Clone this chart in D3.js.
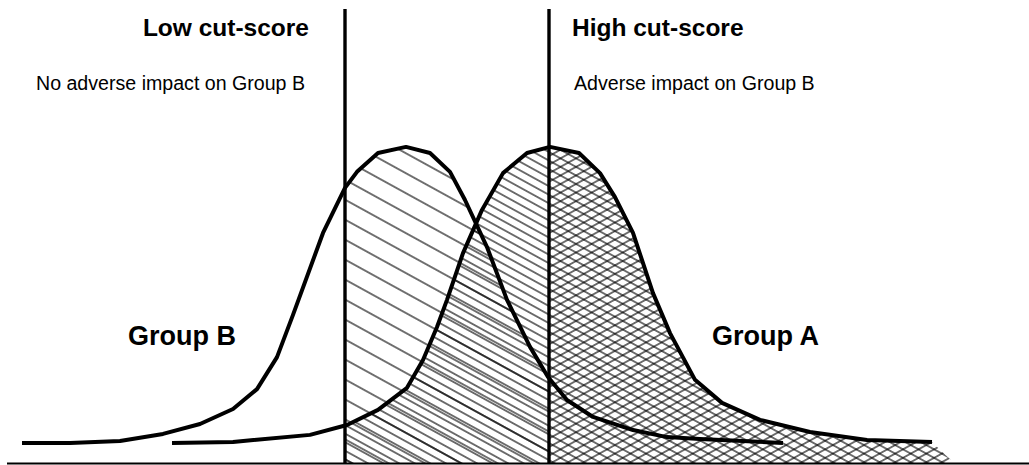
<!DOCTYPE html>
<html>
<head>
<meta charset="utf-8">
<script src="https://cdn.jsdelivr.net/npm/d3@7"></script>
<style>
  body { margin: 0; background: #fff; }
  text { font-family: "Liberation Sans", Arial, sans-serif; fill: #000; }
</style>
</head>
<body>
<script>
// score distributions (score 0-100, relative frequency 0-100)
var groupBScores = [1.2, 6.0, 11.0, 15.3, 19.0, 22.3, 24.7, 26.7, 28.3, 31.3, 33.5, 34.7, 36.8, 39.6, 42.0, 44.0, 45.5, 47.7, 49.7, 52.0, 53.8, 55.7, 58.3, 62.3, 65.7, 69.0, 77.3];
var groupBFreq   = [6.6, 6.6, 7.2, 9.4, 12.5, 17.2, 23.4, 33.4, 46.6, 72.2, 86.3, 91.3, 97.2, 99.1, 97.2, 91.3, 82.5, 67.8, 51.3, 36.6, 27.2, 20.0, 14.7, 10.6, 8.4, 7.8, 6.6];

var groupAScores = [16.2, 22.3, 30.0, 33.7, 36.8, 39.7, 41.3, 42.7, 43.7, 45.3, 47.2, 49.3, 51.7, 54.0, 56.9, 59.0, 60.5, 62.3, 64.3, 66.0, 68.5, 71.2, 75.0, 80.0, 85.7, 92.2];
var groupAFreq   = [6.6, 6.9, 9.1, 12.2, 16.9, 23.8, 32.5, 42.8, 51.3, 65.9, 79.4, 90.9, 97.2, 99.1, 97.2, 90.9, 83.4, 72.2, 53.4, 40.9, 26.3, 19.1, 13.8, 10.0, 7.5, 6.9];

// hatched area of group A runs down to the baseline a bit past the curve end
var groupAHatchEnd = [94.5, 0];

var cutScores = [33.5, 53.9];
var cutNames = ["Low cut-score", "High cut-score"];
var cutNotes = ["No adverse impact on Group B", "Adverse impact on Group B"];
var groupNames = ["Group B", "Group A"];
var groupLabelScores = [11.8, 70.2];

var width = 1029, height = 465;

var x = d3.scaleLinear().domain([0, 100]).range([10, 1010]);
var y = d3.scaleLinear().domain([0, 100]).range([464, 144]);

var svg = d3.select("body").append("svg")
  .attr("width", width)
  .attr("height", height);

var bData = groupBScores.map(function(s, i) { return [s, groupBFreq[i]]; });
var aData = groupAScores.map(function(s, i) { return [s, groupAFreq[i]]; });
var aFill = aData.concat([groupAHatchEnd]);

// hatch patterns
var defs = svg.append("defs");
var slopeDeg = 28.8;
function hatch(id, gap, angle) {
  var p = defs.append("pattern")
    .attr("id", id)
    .attr("patternUnits", "userSpaceOnUse")
    .attr("width", 20)
    .attr("height", gap)
    .attr("patternTransform", "rotate(" + angle + ")");
  p.append("line")
    .attr("x1", -1).attr("x2", 21)
    .attr("y1", gap / 2).attr("y2", gap / 2)
    .attr("stroke", "#000")
    .attr("stroke-width", 1.1);
}
hatch("wideBack", 17.5, slopeDeg);
hatch("denseBack", 7.5, slopeDeg);
hatch("denseFwd", 7.5, -slopeDeg);

// clip rects for the score ranges
defs.append("clipPath").attr("id", "between")
  .append("rect")
    .attr("x", x(cutScores[0])).attr("y", 0)
    .attr("width", x(cutScores[1]) - x(cutScores[0])).attr("height", height);
defs.append("clipPath").attr("id", "above")
  .append("rect")
    .attr("x", x(cutScores[1])).attr("y", 0)
    .attr("width", width - x(cutScores[1])).attr("height", height);

var area = d3.area()
  .x(function(d) { return x(d[0]); })
  .y0(y(0))
  .y1(function(d) { return y(d[1]); });

// Group B between the cut-scores
svg.append("path")
  .attr("d", area(bData))
  .attr("fill", "url(#wideBack)")
  .attr("clip-path", "url(#between)");

// Group A between the cut-scores
svg.append("path")
  .attr("d", area(aFill))
  .attr("fill", "url(#denseBack)")
  .attr("clip-path", "url(#between)");

// Group A above the high cut-score, cross hatched
svg.append("path")
  .attr("d", area(aFill))
  .attr("fill", "url(#denseBack)")
  .attr("clip-path", "url(#above)");
svg.append("path")
  .attr("d", area(aFill))
  .attr("fill", "url(#denseFwd)")
  .attr("clip-path", "url(#above)");

// the curves
var line = d3.line()
  .x(function(d) { return x(d[0]); })
  .y(function(d) { return y(d[1]); });

[bData, aData].forEach(function(d) {
  svg.append("path")
    .attr("d", line(d))
    .attr("fill", "none")
    .attr("stroke", "#000")
    .attr("stroke-width", 4)
    .attr("stroke-linejoin", "round");
});

// cut-score lines
svg.selectAll(".cut")
  .data(cutScores)
  .enter()
  .append("line")
    .attr("class", "cut")
    .attr("x1", function(d) { return x(d); })
    .attr("x2", function(d) { return x(d); })
    .attr("y1", 9)
    .attr("y2", y(0))
    .attr("stroke", "#000")
    .attr("stroke-width", 3.4);

// baseline
svg.append("line")
  .attr("x1", 7).attr("x2", width)
  .attr("y1", y(0) - 0.5).attr("y2", y(0) - 0.5)
  .attr("stroke", "#000")
  .attr("stroke-width", 2);

// labels
svg.append("text")
  .attr("x", x(cutScores[0]) - 36)
  .attr("y", 36)
  .attr("text-anchor", "end")
  .style("font-weight", "bold")
  .style("font-size", "24.5px")
  .text(cutNames[0]);
svg.append("text")
  .attr("x", x(cutScores[1]) + 23)
  .attr("y", 36)
  .style("font-weight", "bold")
  .style("font-size", "24.5px")
  .text(cutNames[1]);

svg.append("text")
  .attr("x", x(cutScores[0]) - 40)
  .attr("y", 90)
  .attr("text-anchor", "end")
  .style("font-size", "19.6px")
  .text(cutNotes[0]);
svg.append("text")
  .attr("x", x(cutScores[1]) + 25)
  .attr("y", 90)
  .style("font-size", "19.6px")
  .text(cutNotes[1]);

svg.selectAll(".group")
  .data(groupNames)
  .enter()
  .append("text")
    .attr("class", "group")
    .attr("x", function(d, i) { return x(groupLabelScores[i]); })
    .attr("y", 345)
    .style("font-weight", "bold")
    .style("font-size", "27px")
    .text(function(d) { return d; });
</script>
</body>
</html>
